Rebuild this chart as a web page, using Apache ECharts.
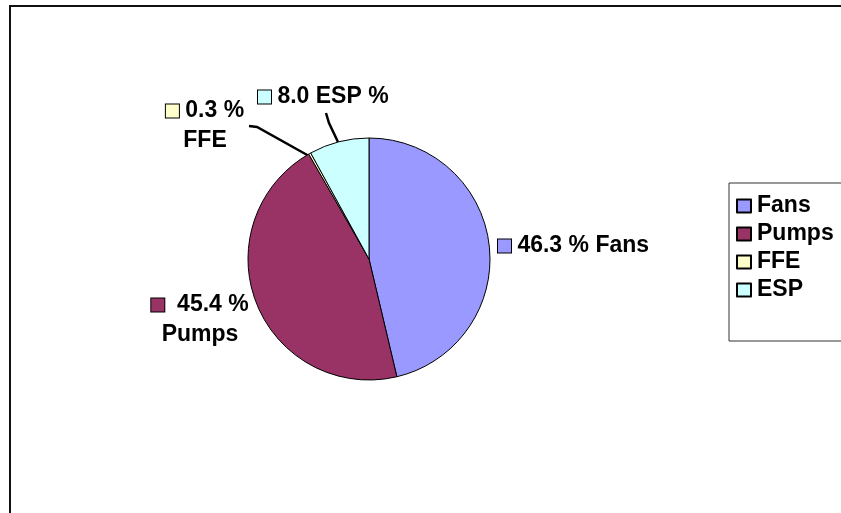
<!DOCTYPE html>
<html>
<head>
<meta charset="utf-8">
<script src="https://cdn.jsdelivr.net/npm/echarts@6/dist/echarts.min.js"></script>
<style>
  html, body { margin: 0; padding: 0; background: #fff; }
  #chart { width: 841px; height: 513px; }
</style>
</head>
<body>
<div id="chart"></div>
<script>
let categories = ['Fans', 'Pumps', 'FFE', 'ESP']
let values = [46.3, 45.4, 0.3, 8.0]
let colorPalette = ['#9999FF', '#993366', '#FFFFCC', '#CCFFFF']

const font = '"Liberation Sans", Arial, sans-serif'

// label placement, roughly where the spreadsheet put them
let labelSpots = [
  { x: 498, y: 246, align: 'left' },
  { x: 200, y: 320, align: 'center' },
  { x: 205, y: 126, align: 'center' },
  { x: 258, y: 97, align: 'left' },
]
let leaderLines = [
  null,
  null,
  [[309, 156], [257, 127], [249, 126]],
  [[338, 142], [329, 123], [326, 113]],
]

function labelText(params) {
  let pct = params.value.toFixed(1)
  let sq = `{sq${params.dataIndex}|}`
  switch (params.dataIndex) {
    case 0: return `${sq}{t| ${pct} % ${params.name}}`
    case 1: return `${sq}{t|  ${pct} %}\n{t|${params.name}}`
    case 2: return `${sq}{t| ${pct} %}\n{t|${params.name}}`
    default: return `${sq}{t| ${pct} ${params.name} %}`
  }
}

let rich = { t: { fontFamily: font, fontSize: 23, fontWeight: 'bold', color: '#000', align: 'center' } }
colorPalette.forEach((c, i) => {
  rich['sq' + i] = { width: 13, height: 13, backgroundColor: c, borderColor: '#000', borderWidth: 1, align: 'center' }
})

let chart = echarts.init(document.getElementById('chart'))
chart.setOption({
  animation: false,
  color: colorPalette,
  graphic: [{
    type: 'rect',
    shape: { x: 10, y: 6, width: 1000, height: 1000 },
    style: { fill: 'none', stroke: '#111', lineWidth: 2 },
    silent: true
  }],
  legend: {
    orient: 'vertical',
    left: 729,
    top: 183,
    padding: [9, 30, 37, 7],
    borderColor: '#333',
    borderWidth: 1,
    itemWidth: 14,
    itemHeight: 13,
    itemGap: 0,
    icon: 'rect',
    data: categories,
    textStyle: { fontFamily: font, fontSize: 23, fontWeight: 'bold', color: '#000', lineHeight: 28, padding: [0, 0, 0, 1] }
  },
  series: [{
    type: 'pie',
    center: [369, 259],
    radius: 121,
    startAngle: 90,
    clockwise: true,
    itemStyle: { borderColor: '#000', borderWidth: 1 },
    emphasis: { disabled: true },
    label: {
      show: true,
      position: 'outside',
      formatter: labelText,
      rich: rich,
      lineHeight: 30
    },
    labelLine: { show: true, lineStyle: { color: '#000', width: 2.5 } },
    labelLayout: (params) => {
      let spot = labelSpots[params.dataIndex]
      let out = { x: spot.x, y: spot.y, align: spot.align, verticalAlign: 'middle' }
      let pts = leaderLines[params.dataIndex]
      out.labelLinePoints = pts ? pts : [[0, 0], [0, 0], [0, 0]]
      return out
    },
    data: categories.map((name, i) => ({ name: name, value: values[i] }))
  }]
})
</script>
</body>
</html>
